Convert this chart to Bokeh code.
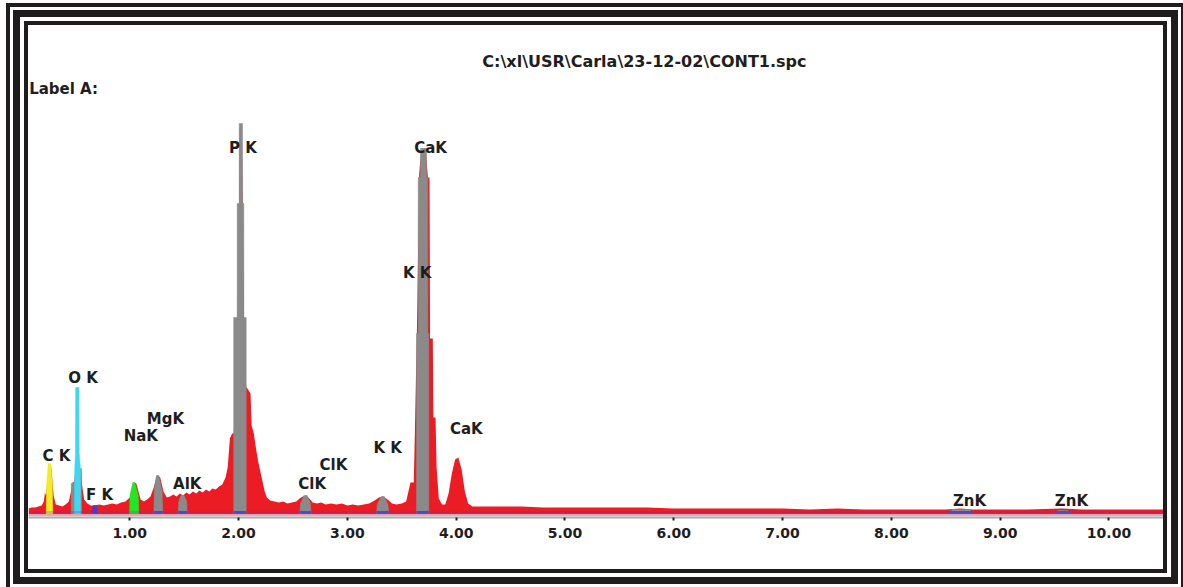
from bokeh.plotting import figure
from bokeh.models import Range1d, FixedTicker, Span, Label, Spacer
from bokeh.layouts import row, column
from bokeh.core.properties import value
from bokeh.embed import file_html
from bokeh.resources import INLINE

# ---------------- data (energy in keV, intensity in arbitrary counts) ----------------
red_kev = [0.07, 0.10, 0.13, 0.16, 0.19, 0.21, 0.22, 0.23, 0.24, 0.26, 0.28, 0.30, 0.32, 0.35,
           0.38, 0.41, 0.44, 0.46, 0.47, 0.49, 0.51, 0.53, 0.55, 0.56, 0.58, 0.61, 0.64, 0.68,
           0.72, 0.76, 0.80, 0.84, 0.88, 0.92, 0.96, 1.00, 1.02, 1.04, 1.06, 1.08, 1.10, 1.13,
           1.16, 1.19, 1.22, 1.25, 1.28, 1.31, 1.34, 1.37, 1.40, 1.43, 1.46, 1.49, 1.52, 1.55,
           1.58, 1.61, 1.64, 1.67, 1.70, 1.73, 1.76, 1.79, 1.82, 1.85, 1.88, 1.90, 1.92, 1.94,
           1.955, 1.99, 2.005, 2.01, 2.03, 2.04, 2.05, 2.07, 2.075, 2.11, 2.12, 2.14, 2.16, 2.18,
           2.20, 2.22, 2.24, 2.26, 2.29, 2.33, 2.37, 2.41, 2.45, 2.49, 2.53, 2.56, 2.59, 2.62,
           2.65, 2.68, 2.72, 2.76, 2.80, 2.85, 2.90, 2.95, 3.00, 3.05, 3.10, 3.15, 3.20, 3.25,
           3.29, 3.33, 3.37, 3.41, 3.45, 3.50, 3.54, 3.58, 3.61, 3.62, 3.64, 3.66, 3.68, 3.72,
           3.74, 3.755, 3.76, 3.785, 3.79, 3.81, 3.82, 3.84, 3.87, 3.90, 3.93, 3.96, 3.99, 4.02,
           4.05, 4.08, 4.11, 4.15, 4.20, 4.40, 4.60, 4.80, 5.00, 5.25, 5.50, 5.75, 6.00, 6.25,
           6.50, 6.75, 7.00, 7.25, 7.50, 7.75, 8.00, 8.25, 8.50, 8.63, 8.75, 9.00, 9.25, 9.57,
           9.75, 10.00, 10.25, 10.50]
red_counts = [5, 6, 6, 7, 8, 12, 21, 18, 30, 50, 45, 18, 9, 8,
              7, 9, 12, 22, 30, 32, 60, 42, 45, 30, 14, 10, 8, 8,
              9, 8, 9, 10, 9, 11, 12, 16, 26, 31, 30, 22, 14, 12,
              14, 17, 26, 38, 36, 22, 16, 17, 19, 17, 20, 18, 21, 19,
              22, 20, 23, 21, 24, 22, 25, 24, 27, 29, 36, 46, 75, 80,
              80, 190, 300, 385, 385, 300, 190, 126, 126, 120, 88, 80, 65, 52,
              42, 32, 22, 16, 13, 12, 11, 12, 10, 11, 12, 15, 17, 18,
              15, 11, 10, 11, 9, 10, 9, 10, 8, 9, 8, 9, 10, 13,
              16, 17, 14, 10, 9, 10, 12, 31, 31, 80, 190, 340, 365, 365,
              336, 336, 175, 175, 96, 96, 46, 15, 9, 9, 20, 40, 54, 56,
              44, 22, 10, 7, 7, 7, 7, 6, 6, 6, 6, 6, 5, 5,
              5, 5, 5, 4, 5, 4, 4, 4, 4, 5, 4, 4, 4, 5,
              4, 4, 4, 4]

# fitted element peaks
c_kev = [0.232, 0.236, 0.250, 0.274, 0.288, 0.292]
c_cnt = [0, 30, 50, 50, 30, 0]
o_fit_kev = [0.462, 0.462, 0.490, 0.540, 0.556, 0.556]
o_fit_cnt = [0, 30, 32, 45, 45, 0]
o_kev = [0.492, 0.494, 0.500, 0.502, 0.533, 0.535, 0.547, 0.549]
o_cnt = [0, 45, 60, 126, 126, 60, 45, 0]
f_kev = [0.655, 0.665, 0.695, 0.705]
f_cnt = [0, 8, 8, 0]
na_kev = [0.997, 1.002, 1.028, 1.046, 1.078, 1.083]
na_cnt = [0, 18, 31, 31, 18, 0]
mg_kev = [1.221, 1.226, 1.245, 1.267, 1.298, 1.303]
mg_cnt = [0, 25, 38, 38, 22, 0]
al_kev = [1.445, 1.450, 1.470, 1.500, 1.523, 1.528]
al_cnt = [0, 12, 18, 18, 12, 0]
p_kev = [1.955, 1.955, 1.987, 1.987, 2.006, 2.006, 2.036, 2.036, 2.048, 2.048, 2.070, 2.070]
p_cnt = [0, 196, 196, 310, 310, 390, 390, 310, 310, 196, 196, 0]
cl_kev = [2.562, 2.570, 2.600, 2.630, 2.660, 2.667]
cl_cnt = [0, 10, 18, 18, 10, 0]
k_kev = [3.267, 3.275, 3.310, 3.340, 3.372, 3.380]
k_cnt = [0, 9, 17, 17, 9, 0]
ca_kev = [3.635, 3.635, 3.651, 3.651, 3.672, 3.672, 3.727, 3.727, 3.739, 3.739, 3.748, 3.748]
ca_cnt = [0, 180, 180, 336, 336, 365, 365, 336, 336, 180, 180, 0]
zna_kev = [8.52, 8.56, 8.72, 8.76]
zna_cnt = [0, 4, 4, 0]
znb_kev = [9.50, 9.53, 9.62, 9.65]
znb_cnt = [0, 3, 3, 0]

label_text = ["C K", "O K", "F K", "NaK", "MgK", "AlK", "P K", "ClK", "ClK",
              "K K", "K K", "CaK", "CaK", "ZnK", "ZnK"]
label_kev = [0.325, 0.570, 0.722, 1.101, 1.328, 1.528, 2.040, 2.677, 2.872,
             3.371, 3.641, 3.764, 4.093, 8.718, 9.655]
label_cnt = [58, 136, 19, 78, 95, 30, 366, 30, 49, 66, 241, 366, 85, 13, 13]

tick_kev = [1.0, 2.0, 3.0, 4.0, 5.0, 6.0, 7.0, 8.0, 9.0, 10.0]
tick_labels = ["1.00", "2.00", "3.00", "4.00", "5.00", "6.00", "7.00", "8.00", "9.00", "10.00"]

title_text = r"C:\xl\USR\Carla\23-12-02\CONT1.spc"
sample_text = "Label A:"

# ---------------- figure ----------------
RED = "#ec1c24"
GRAY = "#8a8a8a"
BLUE = "#4a50c8"
INK = "#1e1e1e"
FONT = "DejaVu Sans"
FRAME = "#1f1c1d"

p = figure(width=1135, height=544, output_backend="svg", toolbar_location=None,
           x_range=Range1d(0.069, 10.501), y_range=Range1d(-4, 488),
           y_axis_location=None,
           min_border_left=0, min_border_right=0, min_border_top=0, min_border_bottom=52,
           background_fill_color="white", border_fill_color="white",
           outline_line_color=None)
p.grid.visible = False
# triple picture frame drawn around the chart box
p.styles = {"box-shadow": (f"0 0 0 4px {FRAME}, 0 0 0 8px #ffffff, 0 0 0 15px {FRAME}, "
                           f"0 0 0 18px #ffffff, 0 0 0 22px {FRAME}")}

ax = p.xaxis[0]
ax.ticker = FixedTicker(ticks=tick_kev, minor_ticks=[])
ax.major_label_overrides = {t: s for t, s in zip(tick_kev, tick_labels)}
ax.axis_line_color = "#a3aab8"
ax.axis_line_width = 2
ax.major_tick_in = 0
ax.major_tick_out = 3
ax.major_tick_line_color = "#222222"
ax.major_tick_line_width = 2
ax.minor_tick_line_color = None
ax.major_label_text_font = FONT
ax.major_label_text_font_style = "bold"
ax.major_label_text_font_size = "14px"
ax.major_label_text_color = INK
ax.major_label_standoff = 7

# baseline tints
p.add_layout(Span(location=-1.5, dimension="width", line_color="#f4a0a8", line_width=2))

# measured spectrum
p.varea(x=red_kev, y1=-0.5, y2=red_counts, fill_color=RED)

p.add_layout(Span(location=1.5, dimension="width", line_color="#5a40b8", line_alpha=0.35,
                  line_width=1.5))

# fitted peaks
gray_peaks = [(o_fit_kev, o_fit_cnt), (mg_kev, mg_cnt), (al_kev, al_cnt), (p_kev, p_cnt),
              (cl_kev, cl_cnt), (k_kev, k_cnt), (ca_kev, ca_cnt), (zna_kev, zna_cnt),
              (znb_kev, znb_cnt)]
for xs, ys in gray_peaks:
    p.patch(xs, ys, fill_color=GRAY, line_color=GRAY, line_width=0.5)

p.patch(c_kev, c_cnt, fill_color="#f2ee22", line_color="#f2ee22", line_width=0.5)
p.patch(o_kev, o_cnt, fill_color="#40d8f0", line_color="#40d8f0", line_width=0.5)
p.patch(na_kev, na_cnt, fill_color="#22e622", line_color="#22e622", line_width=0.5)
p.patch(f_kev, f_cnt, fill_color="#4040d0", line_color="#4040d0", line_width=0.5)

# peak-region markers at the base
base_l = [min(xs) for xs, ys in gray_peaks[1:]]
base_r = [max(xs) for xs, ys in gray_peaks[1:]]
p.quad(left=base_l, right=base_r, bottom=-0.5, top=2.5, fill_color=BLUE, line_color=None)

# element labels
p.text(x=label_kev, y=label_cnt, text=label_text, text_align="center", text_baseline="middle",
       text_font=value(FONT), text_font_style="bold", text_font_size="15px", text_color=INK)

p.add_layout(Label(x=5.73, y=452, text=title_text, text_align="center", text_baseline="middle",
                   text_font=FONT, text_font_style="bold", text_font_size="16px",
                   text_color=INK))
p.add_layout(Label(x=0.075, y=425, text=sample_text, text_align="left", text_baseline="middle",
                   text_font=FONT, text_font_style="bold", text_font_size="15px",
                   text_color=INK))

layout = row(Spacer(width=28, height=569), column(Spacer(width=1135, height=25), p))

open("out.html", "w").write(file_html(layout, INLINE))
